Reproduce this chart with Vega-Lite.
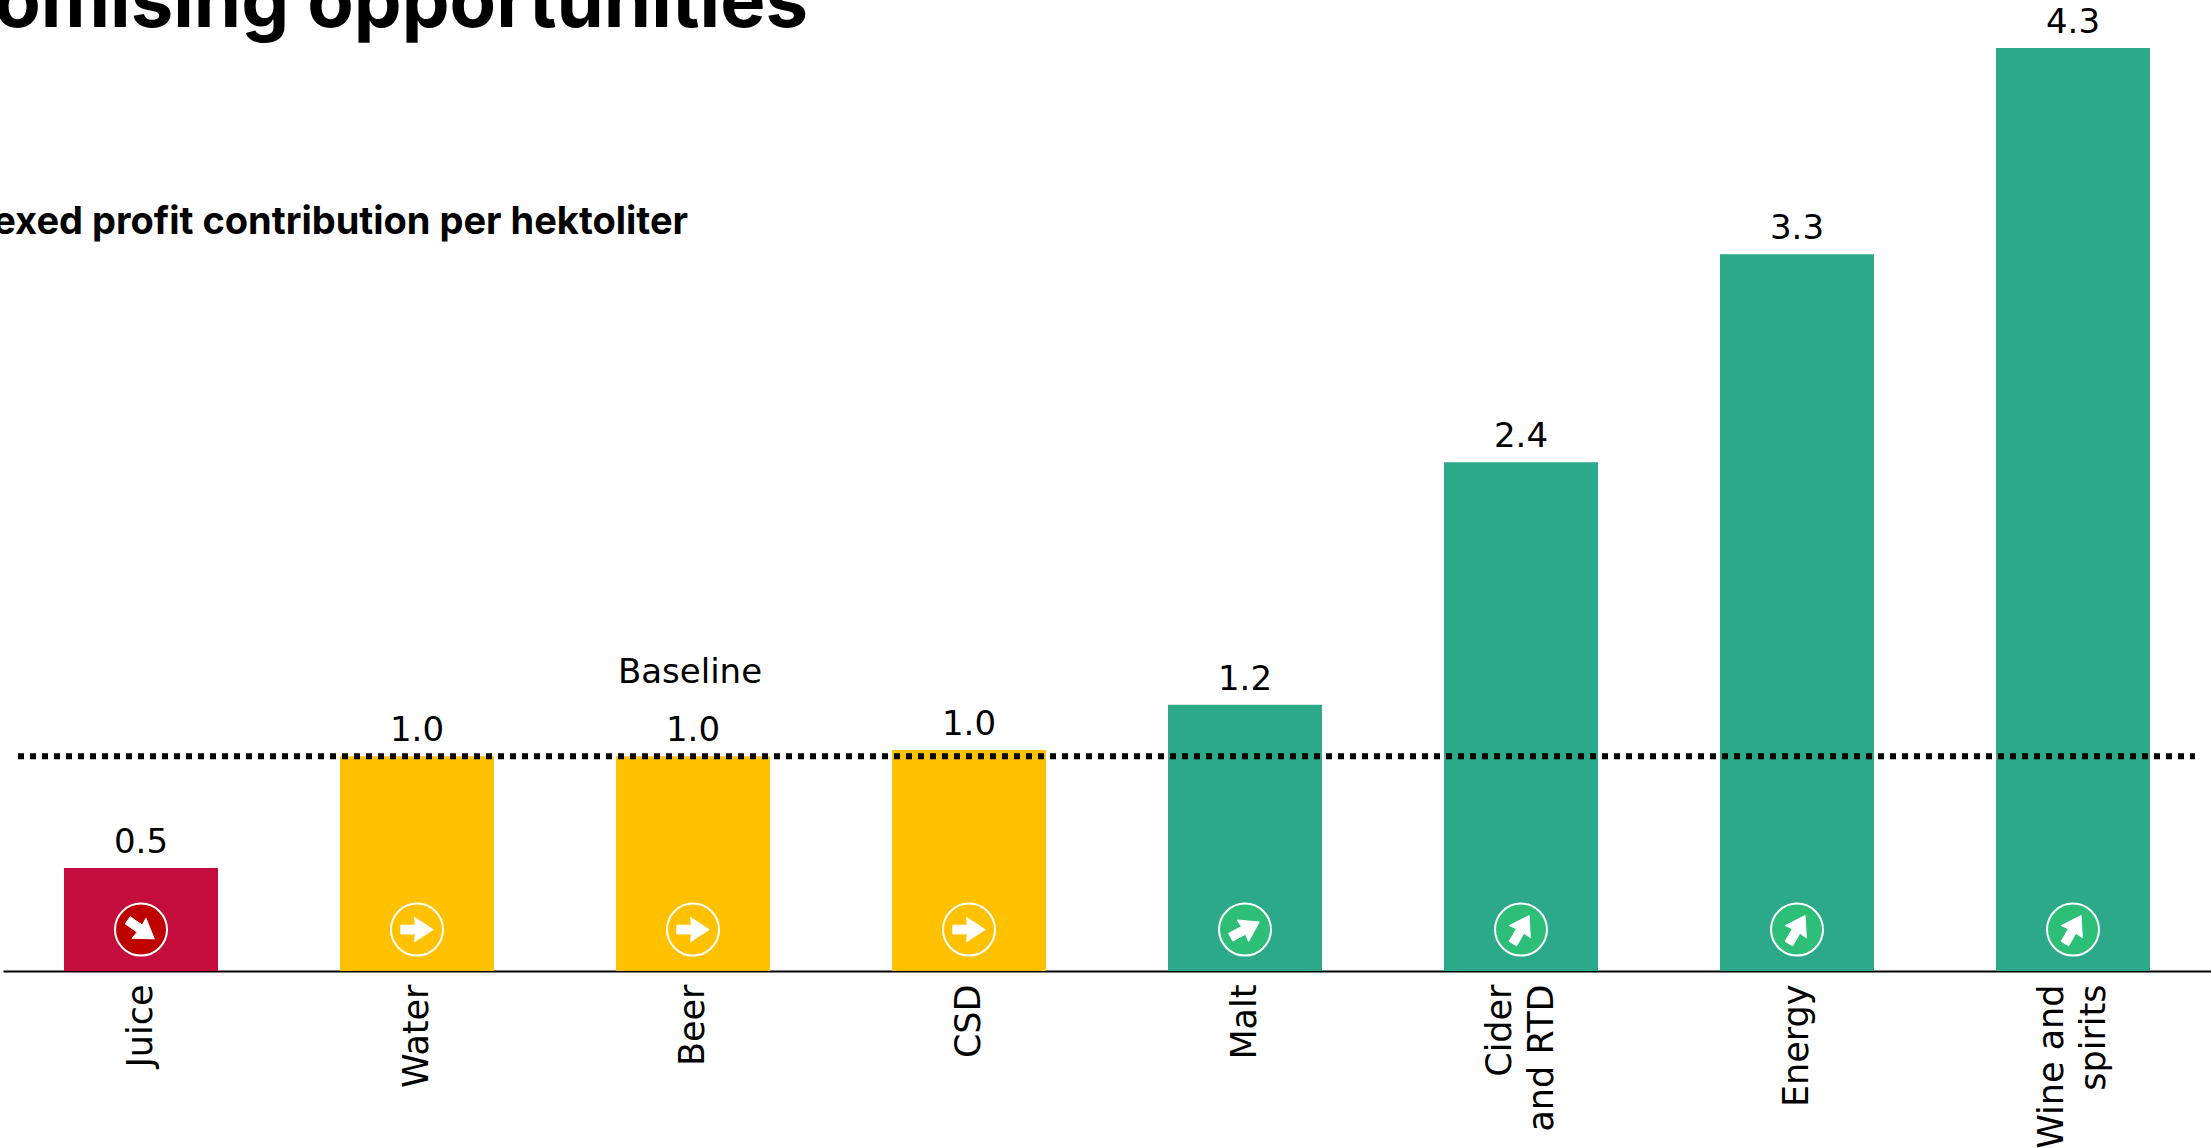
{
  "$schema": "https://vega.github.io/schema/vega-lite/v6.json",
  "width": 2208,
  "height": 971,
  "autosize": "none",
  "padding": {"left": 3, "top": 0, "right": 0, "bottom": 177},
  "background": "white",
  "config": {"view": {"stroke": null}, "font": "DejaVu Sans"},
  "data": {
    "values": [
      {"category": "Juice", "value": 0.48, "group": "Below", "trend": "Falling"},
      {"category": "Water", "value": 1.0, "group": "Level", "trend": "Flat"},
      {"category": "Beer", "value": 1.0, "group": "Level", "trend": "Flat"},
      {"category": "CSD", "value": 1.03, "group": "Level", "trend": "Flat"},
      {"category": "Malt", "value": 1.24, "group": "Above", "trend": "Rising"},
      {"category": "Cider and RTD", "value": 2.37, "group": "Above", "trend": "Climbing"},
      {"category": "Energy", "value": 3.34, "group": "Above", "trend": "Climbing"},
      {"category": "Wine and spirits", "value": 4.3, "group": "Above", "trend": "Climbing"}
    ]
  },
  "encoding": {
    "x": {
      "field": "category",
      "type": "nominal",
      "sort": null,
      "scale": {"paddingInner": 0.442, "paddingOuter": 0.221},
      "axis": {
        "title": null,
        "domain": true,
        "domainColor": "black",
        "domainWidth": 2,
        "ticks": false,
        "labelAngle": -90,
        "labelAlign": "right",
        "labelBaseline": "middle",
        "labelPadding": 13,
        "labelFontSize": 35,
        "labelColor": "black",
        "labelLineHeight": 42,
        "labelOverlap": false,
        "labelLimit": 0,
        "labelOffset": {
          "condition": {"test": "datum.label == 'Cider and RTD' || datum.label == 'Wine and spirits'", "value": -21},
          "value": 0
        },
        "labelExpr": "datum.label == 'Cider and RTD' ? ['Cider', 'and RTD'] : datum.label == 'Wine and spirits' ? ['Wine and', 'spirits'] : datum.label"
      }
    }
  },
  "layer": [
    {
      "mark": {"type": "bar"},
      "encoding": {
        "y": {
          "field": "value",
          "type": "quantitative",
          "scale": {"domain": [0, 4.524], "nice": false, "zero": true},
          "axis": null
        },
        "color": {
          "field": "group",
          "type": "nominal",
          "legend": null,
          "scale": {"domain": ["Below", "Level", "Above"], "range": ["#C40D3C", "#FFC100", "#2BA989"]}
        }
      }
    },
    {
      "mark": {"type": "text", "baseline": "alphabetic", "dy": -15, "fontSize": 34, "color": "black"},
      "encoding": {
        "y": {"field": "value", "type": "quantitative"},
        "text": {"field": "value", "type": "quantitative", "format": ".1f"}
      }
    },
    {
      "mark": {"type": "point", "filled": true, "stroke": "white", "strokeWidth": 2, "shape": "circle", "size": 2704, "opacity": 1},
      "encoding": {
        "y": {"datum": 0.193},
        "fill": {
          "field": "trend",
          "type": "nominal",
          "legend": null,
          "scale": {"domain": ["Falling", "Flat", "Rising", "Climbing"], "range": ["#BF0000", "#FFC100", "#2DBE78", "#2DBE78"]}
        }
      }
    },
    {
      "mark": {"type": "point", "filled": true, "color": "white", "stroke": "white", "strokeWidth": 1, "strokeJoin": "round", "size": 1050, "opacity": 1},
      "encoding": {
        "y": {"datum": 0.193},
        "shape": {
          "field": "trend",
          "type": "nominal",
          "legend": null,
          "scale": {
            "domain": ["Falling", "Flat", "Rising", "Climbing"],
            "range": [
              "M-0.664,-0.795 L0.073,-0.278 L0.307,-0.700 L0.819,0.574 L-0.553,0.528 L-0.237,0.164 L-0.974,-0.353 Z",
              "M-1,-0.27 L-0.1,-0.27 L-0.15,-0.75 L1,0 L-0.15,0.75 L-0.1,0.27 L-1,0.27 Z",
              "M-1.010,0.231 L-0.215,-0.191 L-0.484,-0.592 L0.883,-0.469 L0.220,0.732 L0.039,0.285 L-0.756,0.707 Z",
              "M-0.734,0.731 L-0.284,-0.048 L-0.725,-0.245 L0.5,-0.866 L0.575,0.505 L0.184,0.222 L-0.266,1.001 Z"
            ]
          }
        }
      }
    },
    {
      "data": {"values": [{"from": "Juice", "to": "Wine and spirits", "level": 1}]},
      "mark": {"type": "rule", "color": "black", "strokeWidth": 6, "strokeDash": [6, 6], "xOffset": -123, "x2Offset": 122},
      "encoding": {
        "x": {"field": "from", "type": "nominal"},
        "x2": {"field": "to"},
        "y": {"field": "level", "type": "quantitative"}
      }
    },
    {
      "data": {"values": [{"anchor": "Beer", "level": 1.34, "label": "Baseline"}]},
      "mark": {"type": "text", "baseline": "alphabetic", "fontSize": 34, "color": "black", "dx": -3},
      "encoding": {
        "x": {"field": "anchor", "type": "nominal"},
        "y": {"field": "level", "type": "quantitative"},
        "text": {"field": "label"}
      }
    },
    {
      "data": {"values": [{"anchor": "Beer", "level": 4.398, "label": "promising opportunities"}]},
      "mark": {"type": "text", "baseline": "alphabetic", "align": "right", "fontSize": 76, "fontWeight": "bold", "font": "Inter", "color": "black", "dx": 115},
      "encoding": {
        "x": {"field": "anchor", "type": "nominal"},
        "y": {"field": "level", "type": "quantitative"},
        "text": {"field": "label"}
      }
    },
    {
      "data": {"values": [{"anchor": "Beer", "level": 3.436, "label": "Indexed profit contribution per hektoliter"}]},
      "mark": {"type": "text", "baseline": "alphabetic", "align": "right", "fontSize": 38, "fontWeight": "bold", "font": "Inter", "color": "black", "dx": -5},
      "encoding": {
        "x": {"field": "anchor", "type": "nominal"},
        "y": {"field": "level", "type": "quantitative"},
        "text": {"field": "label"}
      }
    }
  ]
}
